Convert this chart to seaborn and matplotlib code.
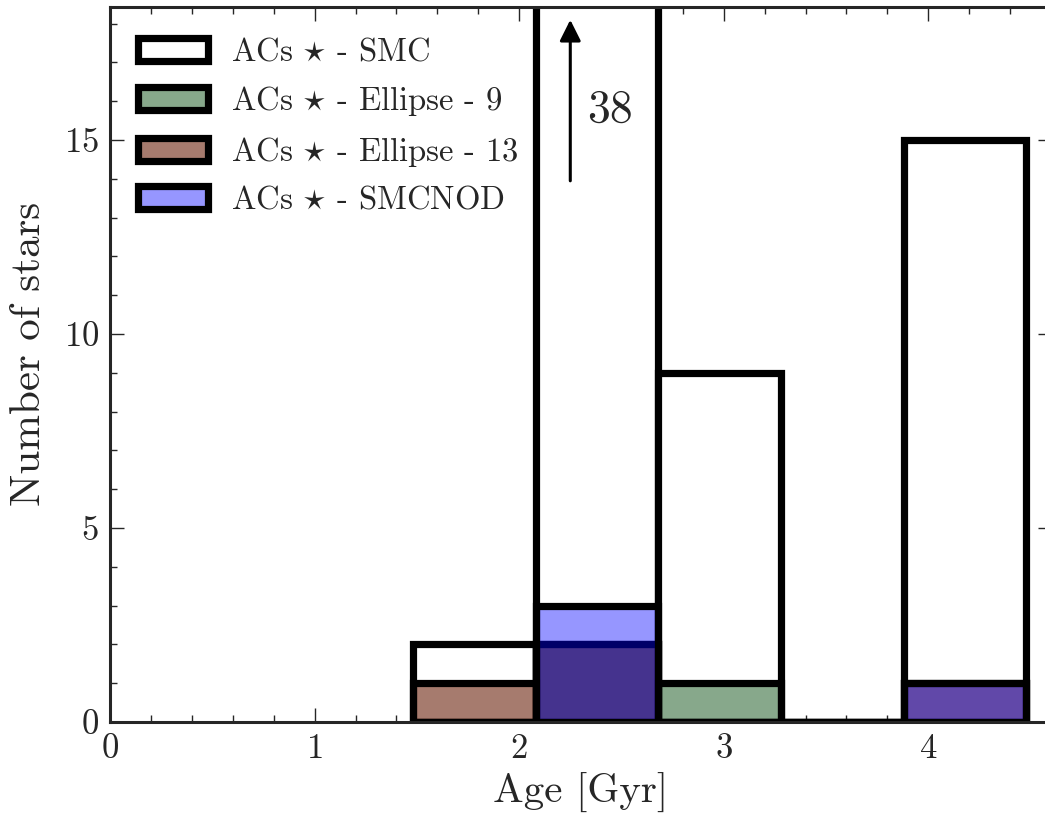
import numpy as np
import pandas as pd
import matplotlib
matplotlib.use("Agg")
import matplotlib.pyplot as plt
from matplotlib.ticker import MultipleLocator
import seaborn as sns

# Age bins (Gyr) and star counts per bin
bin_edges = [1.48, 2.08, 2.68, 3.28, 3.88, 4.48]
counts_smc = [2, 38, 9, 0, 15]
counts_ell9 = [0, 2, 1, 0, 0]
counts_ell13 = [1, 2, 0, 0, 1]
counts_smcnod = [0, 3, 0, 0, 1]

labels = [
    r"ACs $\star$ - SMC",
    r"ACs $\star$ - Ellipse - 9",
    r"ACs $\star$ - Ellipse - 13",
    r"ACs $\star$ - SMCNOD",
]

sns.set_style("ticks")
plt.rcParams["font.family"] = ["cmr10", "DejaVu Serif"]
plt.rcParams["mathtext.fontset"] = "cm"
plt.rcParams["axes.formatter.use_mathtext"] = True

centers = 0.5 * (np.array(bin_edges[:-1]) + np.array(bin_edges[1:]))
df = pd.DataFrame({
    "age": centers,
    "smc": counts_smc,
    "ell9": counts_ell9,
    "ell13": counts_ell13,
    "smcnod": counts_smcnod,
})

fig = plt.figure(figsize=(10.45, 8.26), dpi=100)
ax = fig.add_axes([0.1053, 0.1259, 0.9014, 0.8656])

styles = [
    ("smc", (1.0, 1.0, 1.0), 1.0),
    ("ell9", (55 / 255, 110 / 255, 62 / 255), 0.6),
    ("ell13", (107 / 255, 35 / 255, 14 / 255), 0.6),
    ("smcnod", (0.0, 0.0, 1.0), 0.41),
]
for (col, color, alpha), lab in zip(styles, labels):
    sns.histplot(data=df, x="age", weights=col, bins=bin_edges, ax=ax,
                 color=color, alpha=alpha, edgecolor="black", linewidth=5.2,
                 label=lab)

ax.set_xlim(0, 4.605)
ax.set_ylim(0, 18.43)
ax.xaxis.set_major_locator(MultipleLocator(1))
ax.xaxis.set_minor_locator(MultipleLocator(0.2))
ax.yaxis.set_major_locator(MultipleLocator(5))
ax.yaxis.set_minor_locator(MultipleLocator(1))
ax.tick_params(which="both", direction="in", top=True, right=True,
               labelsize=25, width=1.0)
ax.tick_params(which="major", length=10, pad=8)
ax.tick_params(which="minor", length=5)
for sp in ax.spines.values():
    sp.set_linewidth(2.2)

ax.set_xlabel("Age [Gyr]", fontsize=29.5, labelpad=6)
ax.set_ylabel("Number of stars", fontsize=31, labelpad=10)
ax.yaxis.set_label_coords(-0.066, 0.515)

# Off-scale count in the 2.1-2.7 Gyr bin
ax.annotate("", xy=(2.25, 18.1), xytext=(2.25, 13.95),
            arrowprops=dict(arrowstyle="-|>", color="black", lw=2.2,
                            mutation_scale=32, shrinkA=0, shrinkB=0))
ax.text(2.445, 15.77, "38", fontsize=33, ha="center", va="center")

ax.legend(loc="upper left", bbox_to_anchor=(0.0, 0.996), frameon=False,
          fontsize=23.5, handlelength=2.15, handleheight=0.72,
          handletextpad=0.72, labelspacing=0.52, borderaxespad=0.35,
          borderpad=0.5)

fig.savefig("out.png", dpi=100)
